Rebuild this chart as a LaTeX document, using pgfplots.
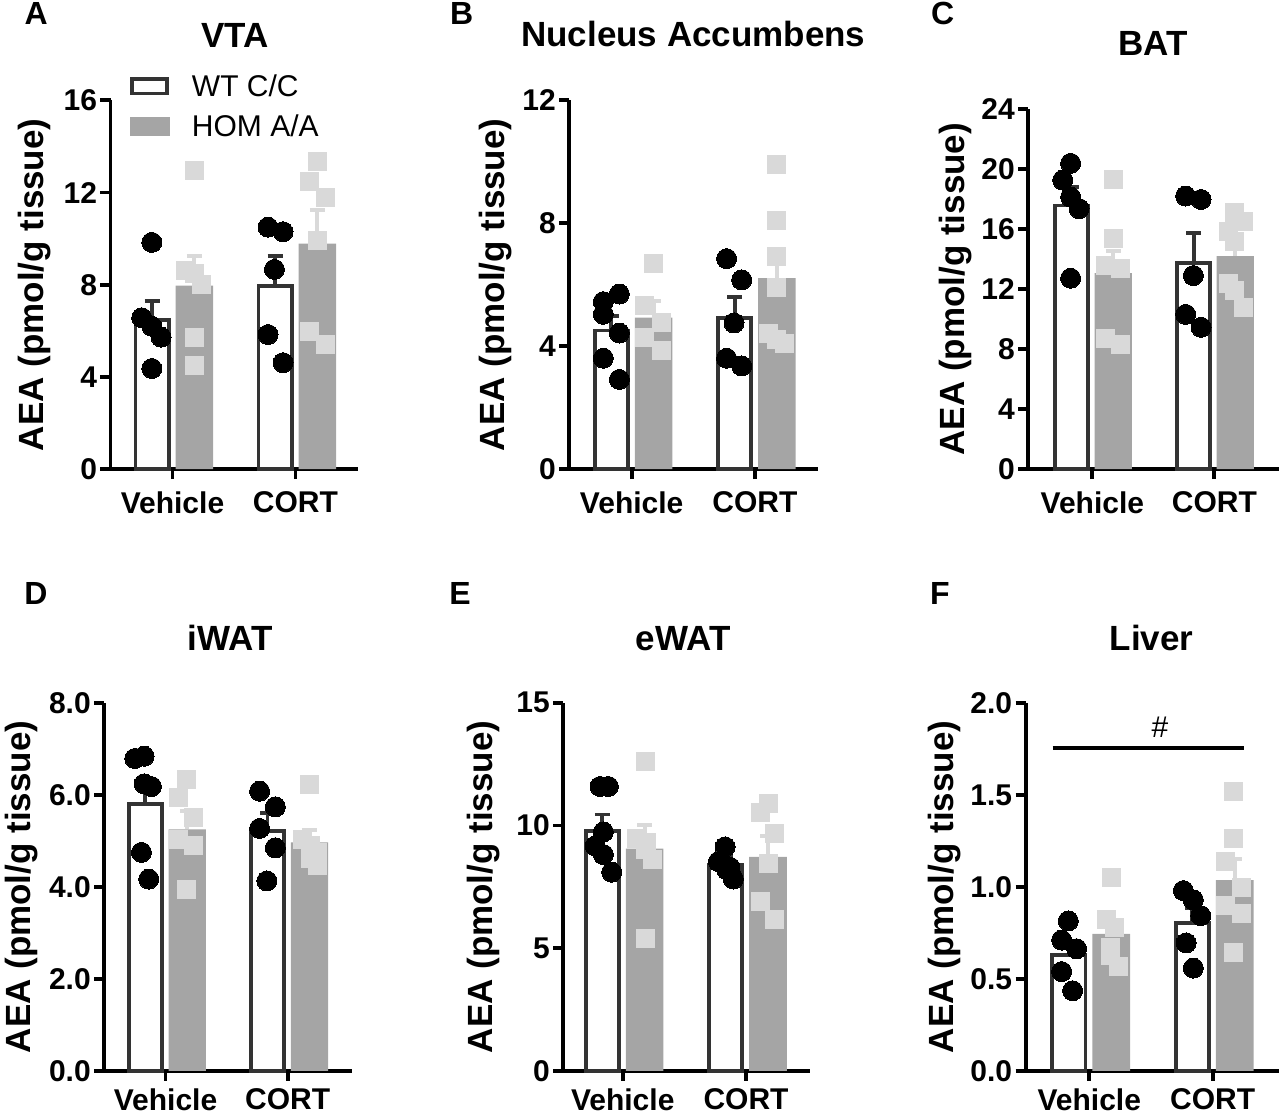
\documentclass[border=0pt]{standalone}
\usepackage{pgfplots}
\pgfplotsset{compat=1.18}
\usepackage{fontspec}
\setmainfont{Liberation Sans}
\definecolor{wtborder}{RGB}{51,51,51}
\definecolor{homgray}{RGB}{165,165,165}
\definecolor{sqgray}{RGB}{217,217,217}
\pgfplotsset{
  panel/.style={
    scale only axis, clip=false,
    axis x line*=bottom, axis y line*=left,
    axis line style={line width=3.8pt, black, -},
    tick align=outside,
    major tick length=10pt,
    major tick style={line width=3.8pt, black},
    xtick={0,1}, xticklabels={Vehicle,CORT},
    ymin=0, enlargelimits=false,
    ticklabel style={font=\fontsize{30}{30}\selectfont\bfseries},
    ylabel={AEA (pmol/g tissue)},
    ylabel style={font=\fontsize{35}{35}\selectfont\bfseries},
  },
  toprow/.style={panel, xticklabel style={yshift=-9pt}},
  botrow/.style={panel, xticklabel style={yshift=-4pt}},
  wtbar/.style={ybar, bar width=0.27, bar shift=0pt, fill=white, draw=wtborder, line width=3.8pt,
    error bars/y dir=plus, error bars/y explicit,
    error bars/error bar style={line width=3.8pt, draw=wtborder},
    error bars/error mark options={rotate=90, mark size=7.5pt, line width=3.8pt, draw=wtborder}},
  hombar/.style={ybar, bar width=0.305, bar shift=0pt, fill=homgray, draw=none,
    error bars/y dir=plus, error bars/y explicit,
    error bars/error bar style={line width=3.8pt, draw=sqgray},
    error bars/error mark options={rotate=90, mark size=7.5pt, line width=3.8pt, draw=sqgray}},
  wtpts/.style={only marks, color=black, mark=*, mark size=10pt, mark options={fill=black, draw=black, line width=0pt}},
  hompts/.style={only marks, color=sqgray, mark=square*, mark size=9pt, mark options={fill=sqgray, draw=sqgray, line width=0pt}},
}
\newcommand{\ttl}[3]{\node[font=\fontsize{35}{35}\selectfont\bfseries, inner sep=0pt] at (#1pt,#2pt) {#3};}
\newcommand{\lett}[3]{\node[font=\fontsize{32}{32}\selectfont\bfseries, inner sep=0pt] at (#1pt,#2pt) {#3};}
\begin{document}
\begin{tikzpicture}
\useasboundingbox (0,0) rectangle (1280pt,1118pt);
% ---------------- A: VTA
\begin{axis}[toprow, at={(110.5pt,648.8pt)}, anchor=south west,
  width=247.8pt, height=368.8pt, xmin=-0.504, xmax=1.511, ymax=16,
  ytick={0,4,8,12,16}, yticklabels={0,4,8,12,16},
  ylabel style={at={(axis description cs:-0.305,0.5)}, anchor=center},
  legend style={at={(axis cs:-0.345,17.13)}, anchor=north west, draw=none, fill=none,
    inner sep=0pt, column sep=23pt, row sep=17pt, font=\fontsize{30}{30}\selectfont,
    nodes={inner sep=0pt}},
  legend cell align=left]
\addplot[forget plot, wtbar] coordinates {(-0.165,6.47) +- (0,0.83) (0.835,7.96) +- (0,1.29)};
\addplot[forget plot, hombar] coordinates {(0.178,7.96) +- (0,1.29) (1.178,9.79) +- (0,1.44)};
\addplot[forget plot, wtpts] coordinates {(-0.168,9.84) (-0.25,6.57) (-0.168,6.2) (-0.092,5.73) (-0.168,4.37)
  (0.777,10.5) (0.899,10.3) (0.829,8.67) (0.777,5.84) (0.899,4.62)};
\addplot[forget plot, hompts] coordinates {(0.179,12.95) (0.103,8.6) (0.179,8.5) (0.239,8.0) (0.179,5.7) (0.179,4.5)
  (1.177,13.36) (1.117,12.5) (1.245,11.8) (1.177,9.91) (1.117,5.98) (1.245,5.4)};
\addlegendimage{legend image code/.code={\draw[fill=white, draw=wtborder, line width=3.8pt] (1.9pt,-7.4pt) rectangle (36.4pt,7.4pt);}}
\addlegendentry{WT C/C}
\addlegendimage{legend image code/.code={\fill[homgray] (0pt,-9.3pt) rectangle (38.3pt,9.3pt);}}
\addlegendentry{HOM A/A}
\end{axis}
% ---------------- B: Nucleus Accumbens
\begin{axis}[toprow, at={(569.3pt,648.8pt)}, anchor=south west,
  width=248.4pt, height=368.8pt, xmin=-0.506, xmax=1.509, ymax=12,
  ytick={0,4,8,12}, yticklabels={0,4,8,12},
  ylabel style={at={(axis description cs:-0.299,0.5)}, anchor=center}]
\addplot[wtbar] coordinates {(-0.165,4.51) +- (0,0.47) (0.835,4.91) +- (0,0.68)};
\addplot[hombar] coordinates {(0.178,4.93) +- (0,0.55) (1.178,6.22) +- (0,0.85)};
\addplot[wtpts] coordinates {(-0.23,5.45) (-0.1,5.70) (-0.23,5.04) (-0.1,4.43) (-0.23,3.61) (-0.1,2.92)
  (0.77,6.85) (0.892,6.16) (0.83,4.76) (0.77,3.61) (0.892,3.36)};
\addplot[hompts] coordinates {(0.176,6.69) (0.108,5.31) (0.243,4.76) (0.108,4.27) (0.243,3.85)
  (1.176,9.9) (1.176,8.09) (1.176,6.91) (1.176,5.92) (1.108,4.43) (1.176,4.21) (1.243,4.10)};
\end{axis}
% ---------------- C: BAT
\begin{axis}[toprow, at={(1028.3pt,648.8pt)}, anchor=south west,
  width=250.7pt, height=360pt, xmin=-0.525, xmax=1.530, ymax=24,
  ytick={0,4,8,12,16,20,24}, yticklabels={0,4,8,12,16,20,24},
  ylabel style={at={(axis description cs:-0.292,0.5)}, anchor=center}]
\addplot[wtbar] coordinates {(-0.17,17.58) +- (0,1.24) (0.83,13.75) +- (0,1.98)};
\addplot[hombar] coordinates {(0.172,13.07) +- (0,1.47) (1.172,14.2) +- (0,1.19)};
\addplot[wtpts] coordinates {(-0.178,20.39) (-0.243,19.27) (-0.178,18.14) (-0.109,17.37) (-0.178,12.73)
  (0.765,18.21) (0.891,17.98) (0.828,12.91) (0.765,10.32) (0.891,9.46)};
\addplot[hompts] coordinates {(0.172,19.34) (0.172,15.39) (0.104,13.59) (0.227,13.36) (0.104,8.74) (0.227,8.29)
  (1.169,17.08) (1.238,16.52) (1.115,15.84) (1.169,15.21) (1.115,12.39) (1.169,11.9) (1.238,10.77)};
\end{axis}
% ---------------- D: iWAT
\begin{axis}[botrow, at={(104.3pt,47pt)}, anchor=south west,
  width=247.4pt, height=368.2pt, xmin=-0.501, xmax=1.524, ymax=8,
  ytick={0,2,4,6,8}, yticklabels={0.0,2.0,4.0,6.0,8.0},
  ylabel style={at={(axis description cs:-0.334,0.5)}, anchor=center}]
\addplot[wtbar] coordinates {(-0.165,5.80) +- (0,0.49) (0.835,5.21) +- (0,0.39)};
\addplot[hombar] coordinates {(0.178,5.25) +- (0,0.40) (1.178,4.97) +- (0,0.26)};
\addplot[wtpts] coordinates {(-0.252,6.79) (-0.175,6.84) (-0.175,6.24) (-0.115,6.18) (-0.197,4.75) (-0.137,4.17)
  (0.77,6.08) (0.899,5.74) (0.77,5.27) (0.899,4.85) (0.83,4.13)};
\addplot[hompts] coordinates {(0.173,6.33) (0.104,5.95) (0.227,5.50) (0.104,5.04) (0.227,4.89) (0.173,3.94)
  (1.181,6.22) (1.118,5.04) (1.186,4.89) (1.241,4.75) (1.186,4.62) (1.241,4.47)};
\end{axis}
% ---------------- E: eWAT
\begin{axis}[botrow, at={(563.3pt,47pt)}, anchor=south west,
  width=246.7pt, height=368.2pt, xmin=-0.482, xmax=1.519, ymax=15,
  ytick={0,5,10,15}, yticklabels={0,5,10,15},
  ylabel style={at={(axis description cs:-0.324,0.5)}, anchor=center}]
\addplot[wtbar] coordinates {(-0.165,9.77) +- (0,0.68) (0.835,8.39) +- (0,0.33)};
\addplot[hombar] coordinates {(0.178,9.06) +- (0,0.96) (1.178,8.72) +- (0,0.85)};
\addplot[wtpts] coordinates {(-0.184,11.59) (-0.116,11.59) (-0.157,9.74) (-0.224,9.17) (-0.157,8.82) (-0.089,8.10)
  (0.83,9.13) (0.776,8.53) (0.843,8.2) (0.897,7.82) (0.87,8.3)};
\addplot[hompts] coordinates {(0.181,12.61) (0.114,9.46) (0.195,9.31) (0.181,9.03) (0.241,8.6) (0.181,5.4)
  (1.181,10.88) (1.114,10.52) (1.235,9.67) (1.181,8.46) (1.114,6.9) (1.235,6.19)};
\end{axis}
% ---------------- F: Liver
\begin{axis}[botrow, at={(1025.7pt,47pt)}, anchor=south west,
  width=253.3pt, height=368.2pt, xmin=-0.515, xmax=1.537, ymax=2,
  ytick={0,0.5,1,1.5,2}, yticklabels={0.0,0.5,1.0,1.5,2.0},
  ylabel style={at={(axis description cs:-0.319,0.5)}, anchor=center}]
\addplot[wtbar] coordinates {(-0.165,0.631) +- (0,0.067) (0.835,0.802) +- (0,0.083)};
\addplot[hombar] coordinates {(0.178,0.745) +- (0,0.07) (1.178,1.037) +- (0,0.114)};
\addplot[wtpts] coordinates {(-0.17,0.815) (-0.224,0.711) (-0.103,0.664) (-0.224,0.54) (-0.135,0.436)
  (0.762,0.98) (0.843,0.929) (0.903,0.844) (0.784,0.696) (0.843,0.559)};
\addplot[hompts] coordinates {(0.181,1.052) (0.141,0.825) (0.208,0.777) (0.168,0.673) (0.168,0.626) (0.235,0.569)
  (1.168,1.517) (1.168,1.261) (1.1,1.137) (1.235,0.995) (1.1,0.90) (1.235,0.853) (1.168,0.645)};
\draw[line width=4.5pt, black] (axis cs:-0.297,1.754) -- (axis cs:1.254,1.754);
\node[font=\fontsize{30}{30}\selectfont, inner sep=0pt] at (axis cs:0.573,1.867) {\#};
\end{axis}
% titles and panel letters
\ttl{235}{1082.5}{VTA}
\ttl{693.3}{1084.2}{Nucleus Accumbens}
\ttl{1153.3}{1074.1}{BAT}
\ttl{230}{479.8}{iWAT}
\ttl{683.3}{479.8}{eWAT}
\ttl{1151.7}{479.8}{Liver}
\lett{36.3}{1104.7}{A}
\lett{461.7}{1104.7}{B}
\lett{942.7}{1104.7}{C}
\lett{36}{524}{D}
\lett{460}{524}{E}
\lett{940}{524}{F}
\end{tikzpicture}
\end{document}
